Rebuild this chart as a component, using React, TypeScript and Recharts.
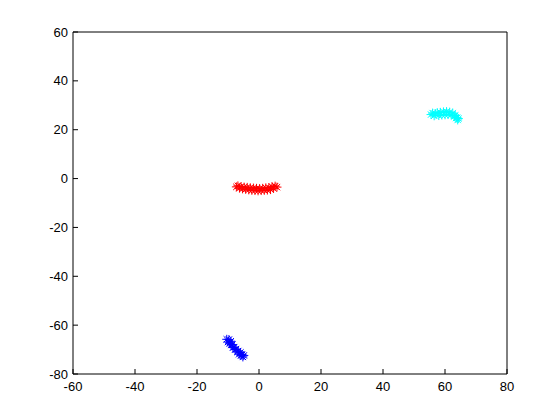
import { ScatterChart, Scatter, XAxis, YAxis } from 'recharts';

// cluster points
const redPoints = [
  [-7.3, -3.4], [-6.8, -3.0], [-6.3, -3.9], [-5.8, -3.3], [-5.3, -4.2], [-4.8, -3.5],
  [-4.3, -4.4], [-3.8, -3.6], [-3.3, -4.6], [-2.8, -3.8], [-2.3, -4.8], [-1.8, -3.9],
  [-1.3, -4.9], [-0.8, -4.0], [-0.3, -5.0], [0.2, -4.1], [0.7, -4.9], [1.2, -4.0],
  [1.7, -4.8], [2.2, -3.8], [2.7, -4.7], [3.2, -3.7], [3.7, -4.5], [4.2, -3.3],
  [4.7, -4.0], [5.2, -3.1], [5.8, -3.5],
];
const cyanPoints = [
  [55.5, 26.2], [56, 26.8], [56.5, 25.7], [57, 26.6], [57.5, 27.0], [58, 25.8],
  [58.5, 27.1], [59, 26.0], [59.5, 27.3], [60, 26.1], [60.5, 27.4], [61, 26.2],
  [61.5, 27.2], [62, 26.0], [62.5, 26.8], [63, 25.6], [63.3, 25.8], [63.6, 24.8],
  [63.9, 24.9], [64.1, 24.0], [64.3, 24.6],
];
const bluePoints = [
  [-10.4, -65.8], [-10, -66.9], [-9.7, -65.9], [-9.5, -67.4], [-9.1, -66.6], [-9, -68.0],
  [-8.6, -68.0], [-8.4, -69.2], [-8, -69.0], [-7.7, -70.0], [-7.4, -69.8], [-7, -71.0],
  [-6.7, -70.6], [-6.4, -71.9], [-6, -71.2], [-5.8, -72.4], [-5.5, -72.0], [-5.2, -73.0],
  [-4.9, -72.4],
];

const xTicks = [-60, -40, -20, 0, 20, 40, 60, 80];
const yTicks = [-80, -60, -40, -20, 0, 20, 40, 60];
const noPoints: { x: number; y: number }[] = [];

const toRows = (pts: number[][]) => pts.map(([x, y]) => ({ x, y }));

// MATLAB-style '*' marker
function star(color: string) {
  return (props: any) => {
    const { cx, cy } = props;
    const r = 4.5;
    const d = 3.2;
    return (
      <g stroke={color} strokeWidth={1}>
        <line x1={cx - r} y1={cy} x2={cx + r} y2={cy} />
        <line x1={cx} y1={cy - r} x2={cx} y2={cy + r} />
        <line x1={cx - d} y1={cy - d} x2={cx + d} y2={cy + d} />
        <line x1={cx - d} y1={cy + d} x2={cx + d} y2={cy - d} />
      </g>
    );
  };
}

const tickFont = { fill: '#000', fontSize: 13, fontFamily: 'Liberation Sans, Arial, sans-serif' };
const axisStroke = { stroke: '#000' };

export default function App() {
  return (
    <div style={{ position: 'absolute', left: 0, top: 0, width: 560, height: 420, background: '#fff' }}>
      <ScatterChart width={560} height={420} margin={{ top: 31, right: 52, left: 0, bottom: 0 }}>
        <XAxis
          xAxisId="b"
          type="number"
          dataKey="x"
          domain={[-60, 80]}
          ticks={xTicks}
          interval={0}
          height={46}
          tickSize={-5}
          tickMargin={13}
          tick={tickFont}
          axisLine={axisStroke}
          tickLine={axisStroke}
          allowDataOverflow
        />
        <XAxis
          xAxisId="t"
          orientation="top"
          type="number"
          dataKey="x"
          domain={[-60, 80]}
          ticks={xTicks}
          interval={0}
          height={1}
          tickSize={-5}
          tick={false}
          axisLine={axisStroke}
          tickLine={axisStroke}
          allowDataOverflow
        />
        <YAxis
          yAxisId="l"
          type="number"
          dataKey="y"
          domain={[-80, 60]}
          ticks={yTicks}
          interval={0}
          width={73}
          tickSize={-5}
          tickMargin={10}
          tick={tickFont}
          axisLine={axisStroke}
          tickLine={axisStroke}
          allowDataOverflow
        />
        <YAxis
          yAxisId="r"
          orientation="right"
          type="number"
          dataKey="y"
          domain={[-80, 60]}
          ticks={yTicks}
          interval={0}
          width={1}
          tickSize={-5}
          tick={false}
          axisLine={axisStroke}
          tickLine={axisStroke}
          allowDataOverflow
        />
        <Scatter xAxisId="t" yAxisId="r" data={noPoints} isAnimationActive={false} />
        <Scatter xAxisId="b" yAxisId="l" data={toRows(redPoints)} shape={star('#ff0000')} isAnimationActive={false} />
        <Scatter xAxisId="b" yAxisId="l" data={toRows(cyanPoints)} shape={star('#00ffff')} isAnimationActive={false} />
        <Scatter xAxisId="b" yAxisId="l" data={toRows(bluePoints)} shape={star('#0000ff')} isAnimationActive={false} />
      </ScatterChart>
    </div>
  );
}
